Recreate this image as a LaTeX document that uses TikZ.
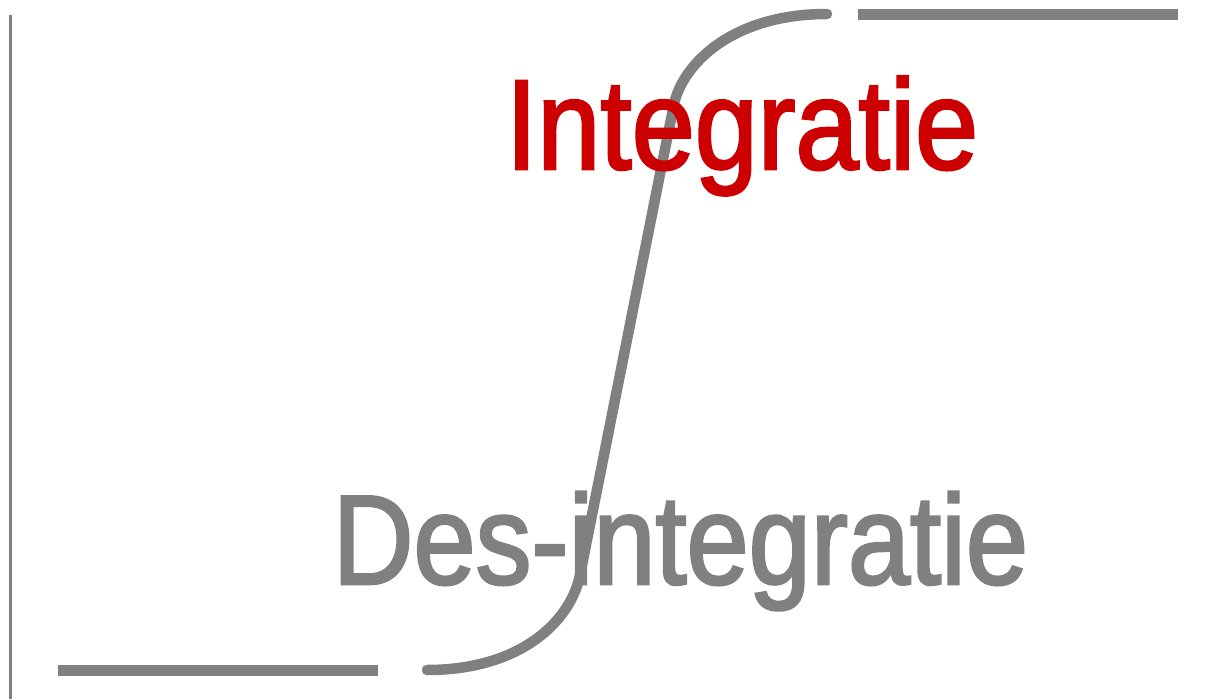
\documentclass[tikz,border=0pt]{standalone}
\usepackage{fontspec}
\newfontfamily\narrowfont[FakeStretch=0.885,FakeBold=2]{Liberation Sans}
\newfontfamily\narrowfontb[FakeStretch=0.876,FakeBold=2]{Liberation Sans}
\definecolor{linegray}{HTML}{808080}
\definecolor{labelred}{HTML}{CC0000}
\tikzset{
  thickline/.style={draw=linegray, line width=11pt},
  label/.style={inner sep=0pt, anchor=base}
}
\begin{document}
\begin{tikzpicture}[x=1pt, y=-1pt]
\useasboundingbox (0,0) rectangle (1213,699);
% left vertical axis
\coordinate (axtop) at (10.3,15);
\coordinate (axbot) at (10.3,699);
\draw[linegray, line width=2.7pt] (axtop) -- (axbot);
% horizontal levels
\coordinate (lowA) at (58,670.8);
\coordinate (lowB) at (378,670.8);
\coordinate (highA) at (858,14.7);
\coordinate (highB) at (1178,14.7);
\draw[thickline] (lowA) -- (lowB);
\draw[thickline] (highA) -- (highB);
% S curve
\coordinate (sBot) at (427,670);
\coordinate (sP1) at (580,575);
\coordinate (sP2) at (674,104);
\coordinate (sTop) at (827,14);
\draw[thickline, line width=10.5pt, line cap=round]
  (sBot) .. controls (522,670) and (571,620) .. (sP1)
  -- (sP2) .. controls (683,64) and (732,14) .. (sTop);
% labels
\node[label, text=labelred, font=\narrowfont\fontsize{128}{128}\selectfont] (integ) at (742,169) {Integratie};
\node[label, text=linegray, font=\narrowfontb\fontsize{127.5}{128}\selectfont] (desinteg) at (680.5,584) {Des-integratie};
\end{tikzpicture}
\end{document}
